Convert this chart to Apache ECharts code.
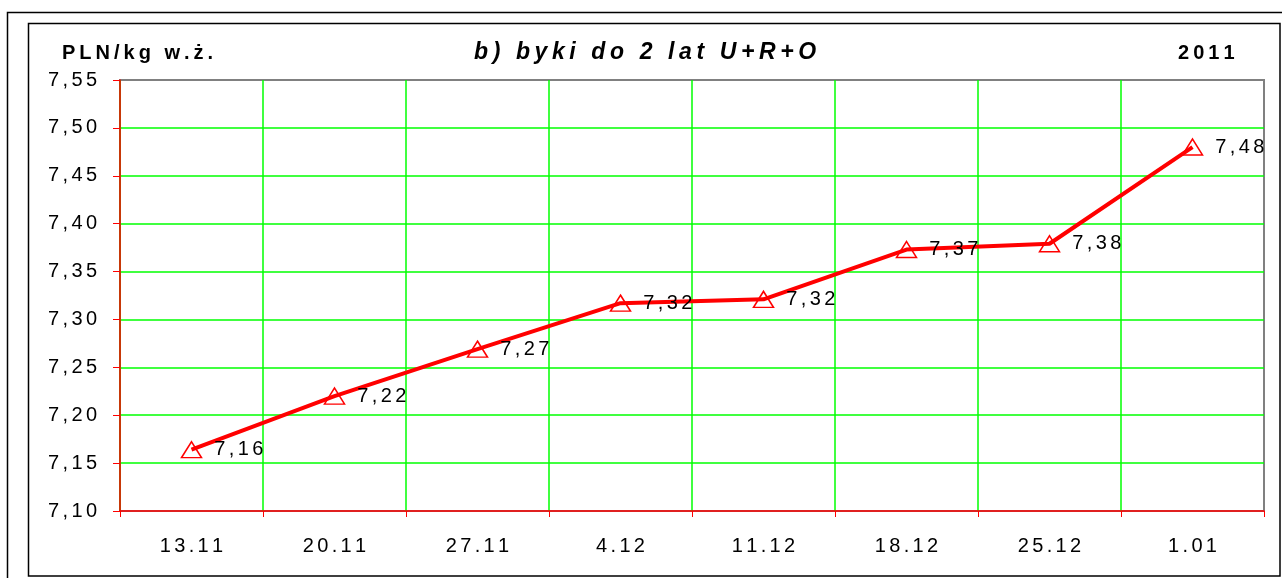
<!DOCTYPE html>
<html>
<head>
<meta charset="utf-8">
<script src="https://cdn.jsdelivr.net/npm/echarts@6/dist/echarts.min.js"></script>
<style>
html,body{margin:0;padding:0;background:#fff;}
#chart{width:1282px;height:578px;}
</style>
</head>
<body>
<div id="chart"></div>
<script>
var categories = ['13.11', '20.11', '27.11', '4.12', '11.12', '18.12', '25.12', '1.01'];
var prices = [7.164, 7.220, 7.269, 7.317, 7.321, 7.373, 7.379, 7.480];
var yMin = 7.10, yMax = 7.55, yStep = 0.05;
var titleText = 'b) byki do 2 lat U+R+O';
var unitText = 'PLN/kg w.ż.';
var yearText = '2011';

function spaced(s, sep) {
  sep = sep || '\u2006';
  return s.split('').join(sep);
}
function fmt(v) { return v.toFixed(2).replace('.', ','); }

var FONT = '"Liberation Sans", Arial, sans-serif';
var chart = echarts.init(document.getElementById('chart'), null, {renderer: 'canvas'});
chart.setOption({
  animation: false,
  backgroundColor: '#fff',
  graphic: [
    {type: 'rect', shape: {x: 7.5, y: 12.5, width: 1300, height: 700}, style: {fill: 'none', stroke: '#000', lineWidth: 1.5}, silent: true},
    {type: 'rect', shape: {x: 28.5, y: 23.5, width: 1251.5, height: 552.5}, style: {fill: 'none', stroke: '#000', lineWidth: 1.5}, silent: true},
    {type: 'text', left: 62, top: 43, style: {text: spaced(unitText, '\u2009'), font: 'bold 20px ' + FONT, fill: '#000'}},
    {type: 'text', left: 1178, top: 43, style: {text: spaced(yearText, '\u2009'), font: 'bold 20px ' + FONT, fill: '#000'}},
    {type: 'text', left: 474, top: 41, style: {text: spaced(titleText, '\u2009'), font: 'italic bold 23px ' + FONT, fill: '#000'}}
  ],
  grid: {left: 120, right: 18, top: 80, bottom: 67, show: true, borderColor: '#808080', borderWidth: 2, backgroundColor: '#fff'},
  xAxis: {
    type: 'category',
    data: categories,
    boundaryGap: true,
    axisLine: {lineStyle: {color: '#ff0000', width: 1.5}},
    axisTick: {show: true, length: 6, lineStyle: {color: '#ff0000'}},
    axisLabel: {margin: 25, color: '#000', fontFamily: FONT, fontSize: 20, formatter: function (v) { return spaced(v); }},
    splitLine: {show: true, showMaxLine: false, lineStyle: {color: '#00ff00', width: 1.5}}
  },
  yAxis: {
    type: 'value',
    min: yMin, max: yMax, interval: yStep,
    axisLine: {show: true, lineStyle: {color: '#ff0000', width: 1.5}},
    axisTick: {show: true, length: 7, lineStyle: {color: '#ff0000'}},
    axisLabel: {margin: 23, color: '#000', fontFamily: FONT, fontSize: 20, formatter: function (v) { return spaced(fmt(v)); }},
    splitLine: {show: true, showMaxLine: false, showMinLine: false, lineStyle: {color: '#00ff00', width: 1.5}}
  },
  series: [{
    type: 'line',
    data: prices,
    lineStyle: {color: '#ff0000', width: 4},
    symbol: 'triangle',
    symbolSize: [20, 16],
    itemStyle: {color: 'rgba(255,255,255,0)', borderColor: '#ff0000', borderWidth: 1.5},
    label: {
      show: true, position: 'right', distance: 12,
      color: '#000', fontFamily: FONT, fontSize: 20,
      formatter: function (p) { return spaced(fmt(p.value)); }
    },
    z: 5
  }]
});
</script>
</body>
</html>
